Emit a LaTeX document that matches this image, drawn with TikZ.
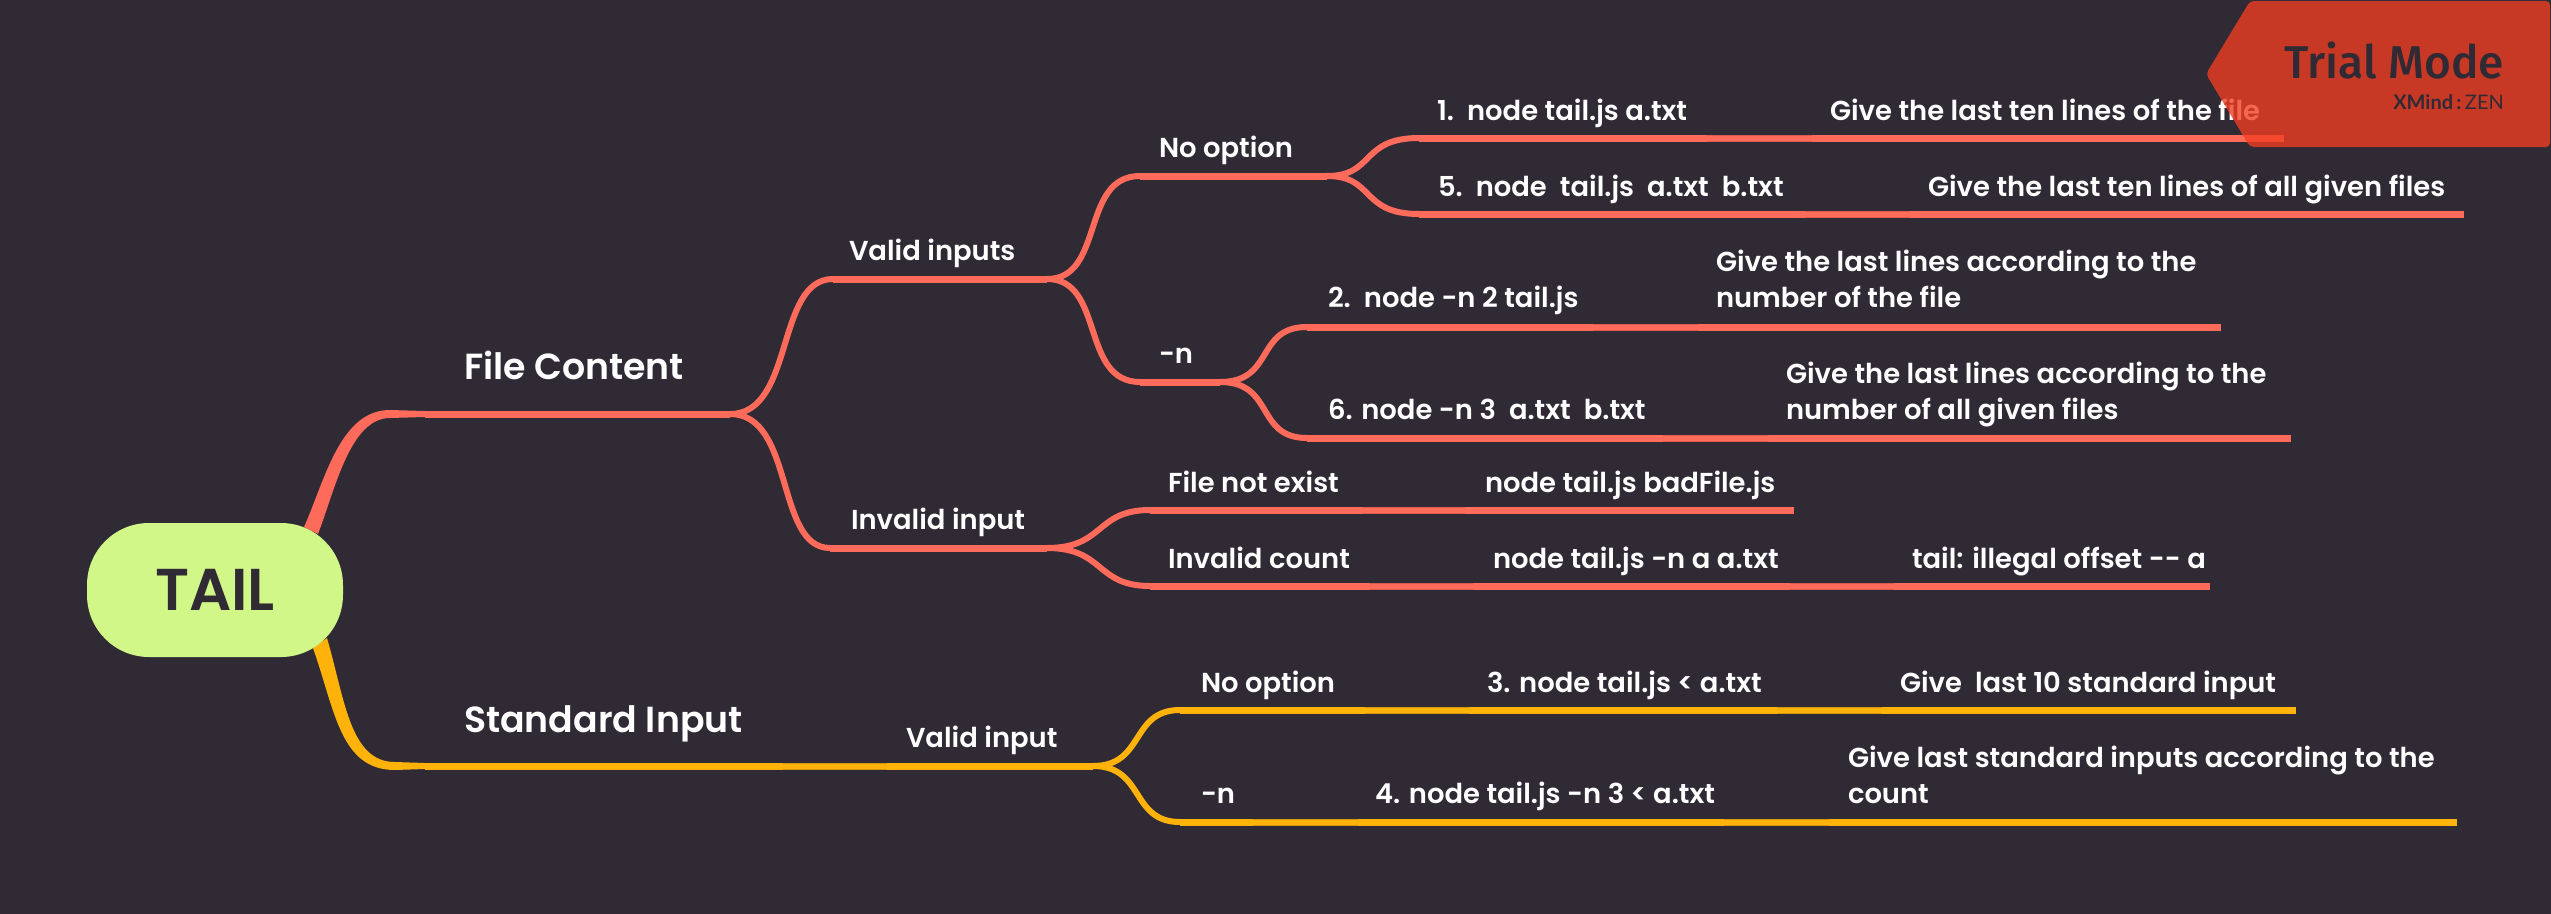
\documentclass[tikz,border=0pt]{standalone}
\usepackage{fontspec}
\setmainfont{Poppins SemiBold}
\newfontfamily\bannerfont{Fira Sans Medium}
\newfontfamily\zenfont{Lato}
\usetikzlibrary{calc}
\definecolor{bg}{HTML}{302A35}
\definecolor{coral}{HTML}{FF6B5B}
\definecolor{coraldk}{HTML}{DB5C50}
\definecolor{amber}{HTML}{FFB30A}
\definecolor{amberdk}{HTML}{D49511}
\definecolor{pill}{HTML}{D0F788}
\definecolor{flag}{HTML}{F23E21}
\tikzset{
  x=1pt,y=-1pt,
  lab/.style={anchor=base west,inner sep=0pt,outer sep=0pt,text=white,font=\fontsize{27.4}{36}\selectfont},
  big/.style={lab,font=\fontsize{36.3}{42}\selectfont},
  rule/.style={line width=7pt,line cap=butt},
  corl/.style={rule,draw=coral},
  ambl/.style={rule,draw=amber},
  corseg/.style={line width=1pt,draw=coraldk,double=coral,double distance=5pt},
  ambseg/.style={line width=1pt,draw=amberdk,double=amber,double distance=5pt},
  corcurve/.style={line width=6pt,draw=coral},
  ambcurve/.style={line width=6pt,draw=amber},
}
\begin{document}
\begin{tikzpicture}
\useasboundingbox (0,0) rectangle (2551,913);
\fill[bg] (-3,-3) rectangle (2554,916);

% named line points
\coordinate (fcA) at (425,414); \coordinate (fcB) at (730,414);
\coordinate (siA) at (425,766); \coordinate (siS) at (783,766); \coordinate (siT) at (887,766); \coordinate (siB) at (1093,766);
\coordinate (viA) at (833,279); \coordinate (viB) at (1047,279);
\coordinate (iiA) at (830,548); \coordinate (iiB) at (1047,548);
\coordinate (noA) at (1140,176); \coordinate (noB) at (1327,176);
\coordinate (nA) at (1140,382); \coordinate (nB) at (1220,382);
\coordinate (r1A) at (1419,138); \coordinate (r1S) at (1707,138); \coordinate (r1T) at (1812,138); \coordinate (r1B) at (2284,138);
\coordinate (r5A) at (1419,214); \coordinate (r5S) at (1805,214); \coordinate (r5T) at (1910,214); \coordinate (r5B) at (2464,214);
\coordinate (r2A) at (1307,327); \coordinate (r2S) at (1593,327); \coordinate (r2T) at (1698,327); \coordinate (r2B) at (2221,327);
\coordinate (r6A) at (1307,438); \coordinate (r6S) at (1663,438); \coordinate (r6T) at (1768,438); \coordinate (r6B) at (2291,438);
\coordinate (feA) at (1150,510); \coordinate (feS) at (1362,510); \coordinate (feT) at (1465,510); \coordinate (feB) at (1794,510);
\coordinate (icA) at (1150,586); \coordinate (icS) at (1369,586); \coordinate (icT) at (1473,586); \coordinate (icU) at (1789,586); \coordinate (icV) at (1894,586); \coordinate (icB) at (2210,586);
\coordinate (s3A) at (1180,710); \coordinate (s3S) at (1365,710); \coordinate (s3T) at (1469,710); \coordinate (s3U) at (1777,710); \coordinate (s3V) at (1882,710); \coordinate (s3B) at (2296,710);
\coordinate (s4A) at (1180,822); \coordinate (s4S) at (1253,822); \coordinate (s4T) at (1358,822); \coordinate (s4U) at (1724,822); \coordinate (s4V) at (1829,822); \coordinate (s4B) at (2457,822);

% tapered main branches
\fill[coral] (304,527) .. controls (325,480) and (340,410) .. (390,410) -- (425,411) -- (425,417) -- (390,418) .. controls (350,418) and (335,490) .. (318,534) -- cycle;
\fill[amber] (327,638) .. controls (345,700) and (350,762) .. (395,762) -- (425,763) -- (425,769) -- (395,770) .. controls (340,770) and (335,710) .. (313,648) -- cycle;

% underlines
\draw[corl] (fcA) -- (fcB);
\draw[corl] (viA) -- (viB);
\draw[corl] (iiA) -- (iiB);
\draw[corl] (noA) -- (noB);
\draw[corl] (nA) -- (nB);
\draw[corl] (r1A) -- (r1S) (r1T) -- (r1B);
\draw[corseg] (r1S) -- (r1T);
\draw[corl] (r5A) -- (r5S) (r5T) -- (r5B);
\draw[corseg] (r5S) -- (r5T);
\draw[corl] (r2A) -- (r2S) (r2T) -- (r2B);
\draw[corseg] (r2S) -- (r2T);
\draw[corl] (r6A) -- (r6S) (r6T) -- (r6B);
\draw[corseg] (r6S) -- (r6T);
\draw[corl] (feA) -- (feS) (feT) -- (feB);
\draw[corseg] (feS) -- (feT);
\draw[corl] (icA) -- (icS) (icT) -- (icU) (icV) -- (icB);
\draw[corseg] (icS) -- (icT) (icU) -- (icV);
\draw[ambl] (siA) -- (siS) (siT) -- (siB);
\draw[ambseg] (siS) -- (siT);
\draw[ambl] (s3A) -- (s3S) (s3T) -- (s3U) (s3V) -- (s3B);
\draw[ambseg] (s3S) -- (s3T) (s3U) -- (s3V);
\draw[ambl] (s4A) -- (s4S) (s4T) -- (s4U) (s4V) -- (s4B);
\draw[ambseg] (s4S) -- (s4T) (s4U) -- (s4V);

% curved branches
\draw[corcurve] (fcB) .. controls (795,414) and (775,279) .. (viA);
\draw[corcurve] (fcB) .. controls (795,414) and (775,548) .. (iiA);
\draw[corcurve] (viB) .. controls (1105,279) and (1080,176) .. (noA);
\draw[corcurve] (viB) .. controls (1105,279) and (1080,382) .. (nA);
\draw[corcurve] (noB) .. controls (1375,176) and (1360,138) .. (r1A);
\draw[corcurve] (noB) .. controls (1375,176) and (1360,214) .. (r5A);
\draw[corcurve] (nB) .. controls (1275,382) and (1255,327) .. (r2A);
\draw[corcurve] (nB) .. controls (1275,382) and (1255,438) .. (r6A);
\draw[corcurve] (iiB) .. controls (1105,548) and (1095,510) .. (feA);
\draw[corcurve] (iiB) .. controls (1105,548) and (1095,586) .. (icA);
\draw[ambcurve] (siB) .. controls (1145,766) and (1130,710) .. (s3A);
\draw[ambcurve] (siB) .. controls (1145,766) and (1130,822) .. (s4A);

% central topic
\node[draw=none,fill=pill,rounded corners=62pt,minimum width=256pt,minimum height=134pt,inner sep=0pt,text=bg,font=\fontsize{59}{62}\selectfont] (tail) at (215,590) {TAIL};

% labels
\node[big] (fc) at (464,379) {File Content};
\node[big] (si) at (464,732) {Standard Input};
\node[lab] (vi) at (849,260) {Valid inputs};
\node[lab] (ii) at (851,529) {Invalid input};
\node[lab] (no) at (1159,157) {No option};
\node[lab] (nn) at (1159,363) {-n};
\node[lab] (t1) at (1437,120) {1.\ \ node tail.js a.txt};
\node[lab] (d1) at (1830,120) {Give the last ten lines of the file};
\node[lab] (t5) at (1438,196) {5.\ \ node\ \ tail.js\ \ a.txt\ \ b.txt};
\node[lab] (d5) at (1928,196) {Give the last ten lines of all given files};
\node[lab] (t2) at (1328,307) {2.\ \ node -n 2 tail.js};
\node[lab] (d2a) at (1716,271) {Give the last lines according to the};
\node[lab] (d2b) at (1716,307) {number of the file};
\node[lab] (t6) at (1328,419) {6. node -n 3\ \ a.txt\ \ b.txt};
\node[lab] (d6a) at (1786,383) {Give the last lines according to the};
\node[lab] (d6b) at (1786,419) {number of all given files};
\node[lab] (fe) at (1168,492) {File not exist};
\node[lab] (fex) at (1485,492) {node tail.js badFile.js};
\node[lab] (ic) at (1168,568) {Invalid count};
\node[lab] (icx) at (1493,568) {node tail.js -n a a.txt};
\node[lab] (icd) at (1912,568) {tail: illegal offset -{}- a};
\node[lab] (vv) at (906,747) {Valid input};
\node[lab] (sno) at (1201,692) {No option};
\node[lab] (t3) at (1487,692) {3. node tail.js < a.txt};
\node[lab] (d3) at (1900,692) {Give\ \ last 10 standard input};
\node[lab] (sn) at (1201,803) {-n};
\node[lab] (t4) at (1375,803) {4. node tail.js -n 3 < a.txt};
\node[lab] (d4a) at (1848,767) {Give last standard inputs according to the};
\node[lab] (d4b) at (1848,803) {count};

% trial banner
\fill[flag,opacity=.79,rounded corners=4pt] (2250,1) -- (2550,1) -- (2550,147) -- (2250,147) -- (2206,74) -- cycle;
\node[anchor=base east,inner sep=0pt,text=bg,font=\bannerfont\fontsize{46}{50}\selectfont] (tm) at (2504,78) {Trial Mode};
\node[anchor=base east,inner sep=0pt,text=bg,font=\zenfont\fontsize{20}{22}\selectfont] (xm) at (2504,109) {{\bfseries XMind}\,{\bfseries:}\,ZEN};
\end{tikzpicture}
\end{document}
